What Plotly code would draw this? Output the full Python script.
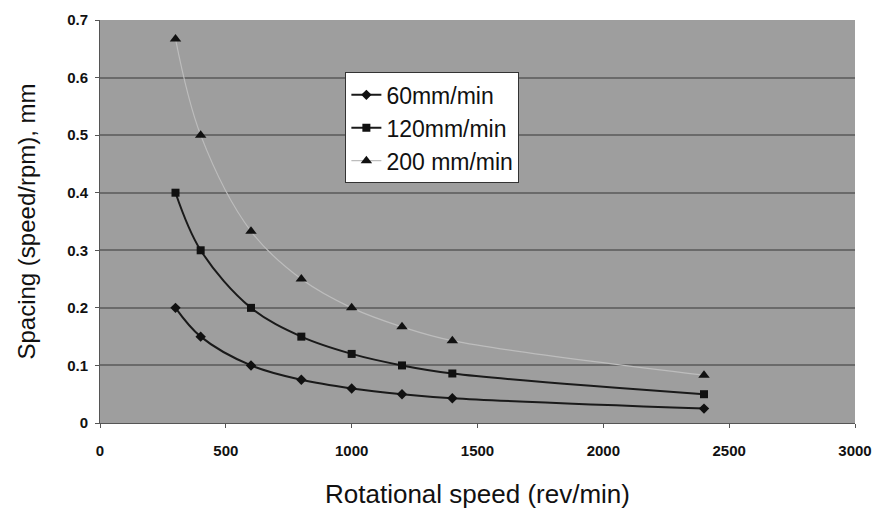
import plotly.graph_objects as go

rpm = [300, 400, 600, 800, 1000, 1200, 1400, 2400]
s60 = [0.2, 0.15, 0.1, 0.075, 0.06, 0.05, 0.043, 0.025]
s120 = [0.4, 0.3, 0.2, 0.15, 0.12, 0.1, 0.086, 0.05]
s200 = [0.667, 0.5, 0.333, 0.25, 0.2, 0.167, 0.143, 0.083]
names = ["60mm/min", "120mm/min", "200 mm/min"]

fig = go.Figure()
fig.add_trace(go.Scatter(x=rpm, y=s60, name=names[0], mode="lines+markers",
                         line=dict(color="#1a1a1a", width=2, shape="spline"),
                         marker=dict(symbol="diamond", size=8, color="#111")))
fig.add_trace(go.Scatter(x=rpm, y=s120, name=names[1], mode="lines+markers",
                         line=dict(color="#1a1a1a", width=2, shape="spline"),
                         marker=dict(symbol="square", size=8, color="#111")))
fig.add_trace(go.Scatter(x=rpm, y=s200, name=names[2], mode="lines+markers",
                         line=dict(color="#bdbdbd", width=1.2, shape="spline"),
                         marker=dict(symbol="triangle-up", size=10, color="#111")))

fig.update_layout(
    width=877, height=512,
    margin=dict(l=100, r=22, t=20, b=89),
    paper_bgcolor="white",
    plot_bgcolor="#9e9e9e",
    font=dict(family="Liberation Sans, Arial, sans-serif", color="#111"),
    showlegend=True,
    legend=dict(x=0.325, y=0.87, xanchor="left", yanchor="top",
                bgcolor="white", bordercolor="#333", borderwidth=1,
                font=dict(size=23), itemwidth=30, tracegroupgap=0),
    xaxis=dict(range=[0, 3000], dtick=500, showgrid=False, zeroline=False,
               showline=True, linecolor="#555", linewidth=1, automargin=False,
               ticks="outside", ticklen=4, tickcolor="#555", ticklabelstandoff=10,
               tickfont=dict(size=15, family="Liberation Sans, Arial", weight="bold"),
               title=dict(text="Rotational speed (rev/min)", font=dict(size=26), standoff=26)),
    yaxis=dict(range=[0, 0.7], dtick=0.1, showgrid=True, gridcolor="#6a6a6a", gridwidth=2,
               zeroline=False, showline=True, linecolor="#555", linewidth=1, automargin=False,
               ticks="outside", ticklen=4, tickcolor="#555", tickformat=".1~f",
               ticklabelstandoff=4,
               tickfont=dict(size=15, family="Liberation Sans, Arial", weight="bold"),
               title=dict(text="Spacing (speed/rpm), mm", font=dict(size=24), standoff=24)),
)

fig.write_html("out.html")
